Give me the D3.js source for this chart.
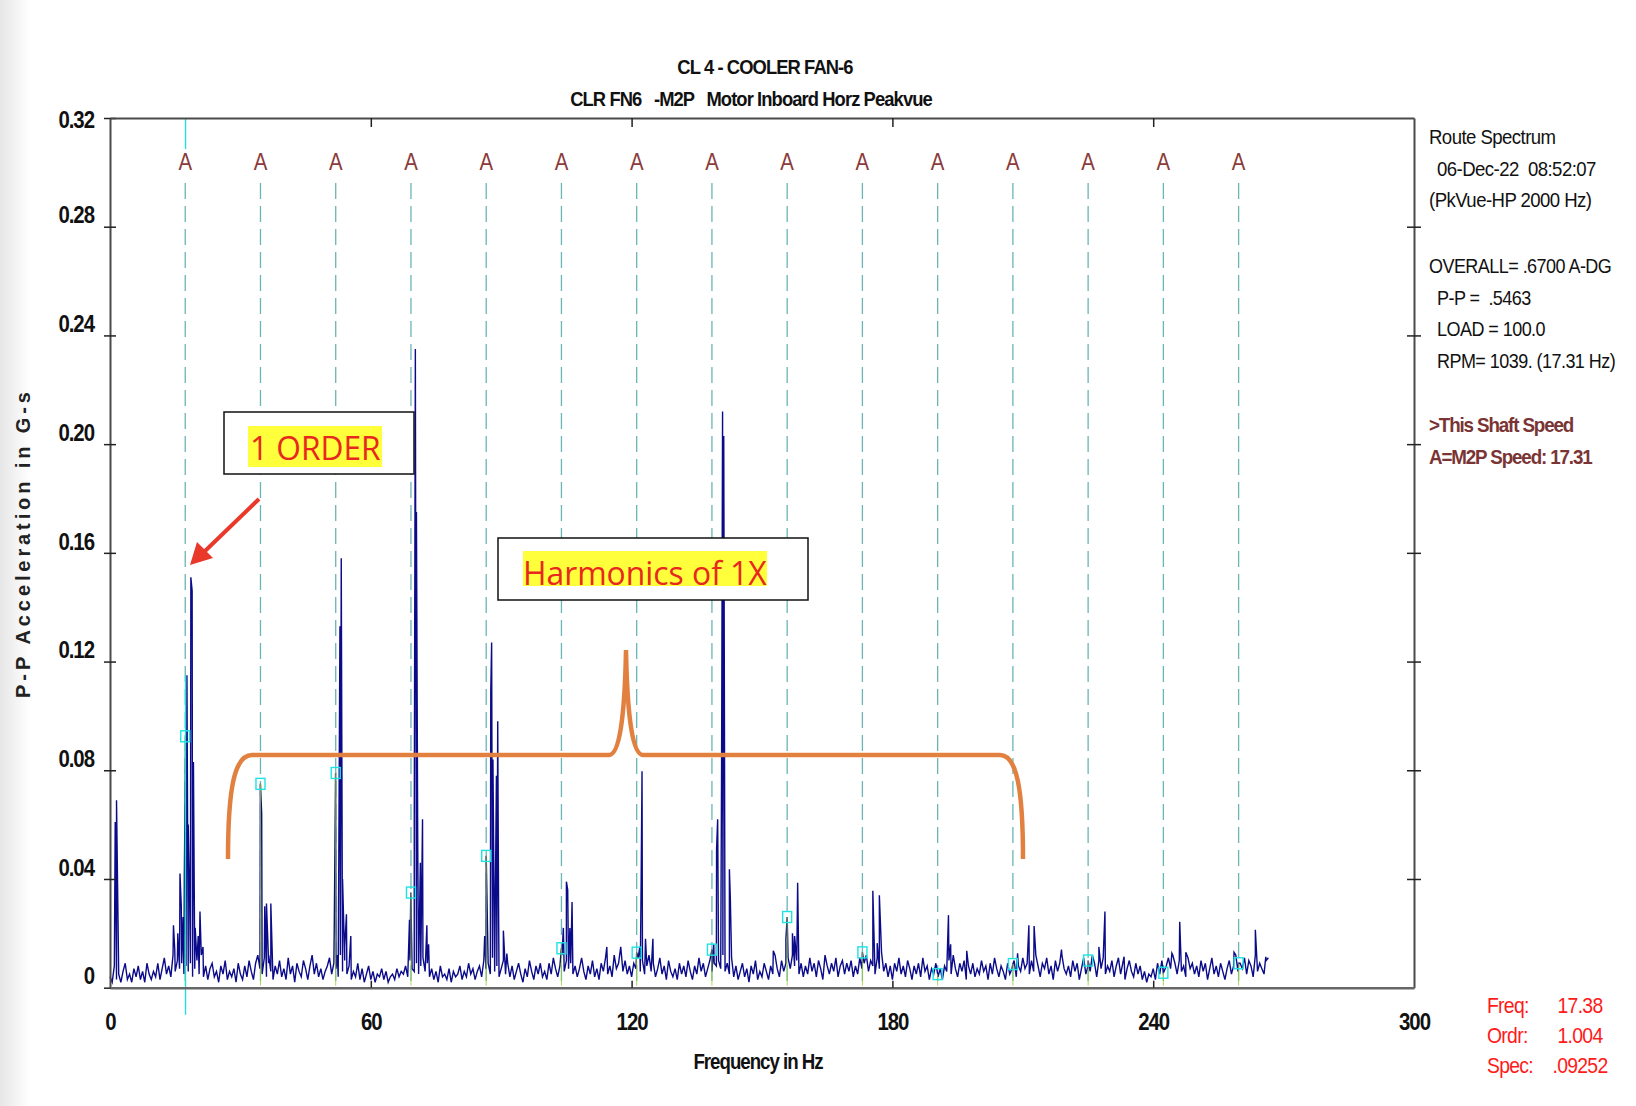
<!DOCTYPE html>
<html>
<head>
<meta charset="utf-8">
<script src="https://cdn.jsdelivr.net/npm/d3@7"></script>
<style>
    html, body { margin: 0; padding: 0; background: #fff; }
    svg { display: block; }
    .narrow { font-family: 'Liberation Sans Narrow', 'Arial Narrow', 'Liberation Sans', sans-serif; }
</style>
</head>
<body>
<div id="chart"></div>
<script>
/* global d3 */

// ---- data ----
const titleLines = ['CL 4 - COOLER FAN-6', 'CLR FN6   -M2P   Motor Inboard Horz Peakvue'];
const xLabel = 'Frequency in Hz';
const yLabel = 'P-P Acceleration in G-s';
const xTicks = [0, 60, 120, 180, 240, 300];
const yTicks = [0, 0.04, 0.08, 0.12, 0.16, 0.20, 0.24, 0.28, 0.32];
const yTickLabels = ['0', '0.04', '0.08', '0.12', '0.16', '0.20', '0.24', '0.28', '0.32'];

const shaftHz = 17.31;
const cursorHz = 17.38;
const harmonicOrders = [1, 2, 3, 4, 5, 6, 7, 8, 9, 10, 11, 12, 13, 14, 15];
// spectrum value at each harmonic (little cyan boxes)
const harmonicAmps = [0.0925, 0.075, 0.079, 0.035, 0.0485, 0.0145, 0.0129, 0.014, 0.026, 0.013, 0.005, 0.0087, 0.010, 0.0055, 0.009];

// noise floor, every 0.5 Hz from 0 Hz, in thousandths of G-s
const floorStepHz = 0.5;
const floorMilli = [
    4, 2, 8, 3, 5, 2, 6, 9, 3, 5, 2, 7, 4, 8, 3, 6, 2, 9, 5, 3,
    6, 4, 9, 3, 7, 11, 5, 8, 4, 12, 6, 10, 7, 9, 5, 8, 6, 9, 4, 7,
    10, 5, 12, 4, 8, 3, 7, 9, 4, 6, 2, 8, 5, 10, 3, 6, 4, 7, 2, 9,
    5, 3, 8, 4, 10, 6, 3, 9, 12, 7, 5, 11, 4, 9, 6, 3, 8, 5, 10, 4,
    7, 3, 11, 5, 8, 2, 9, 6, 4, 10, 7, 3, 8, 12, 5, 9, 4, 7, 3, 6,
    8, 11, 5, 9, 7, 4, 12, 6, 10, 5, 8, 3, 6, 4, 9, 3, 7, 2, 5, 8,
    3, 6, 2, 5, 4, 7, 3, 6, 2, 4, 5, 3, 7, 4, 6, 5, 8, 4, 10, 7,
    6, 9, 5, 8, 11, 6, 9, 4, 7, 3, 6, 2, 8, 4, 5, 3, 7, 2, 6, 4,
    5, 8, 3, 6, 4, 9, 5, 7, 3, 6, 8, 4, 10, 7, 9, 5, 11, 6, 8, 4,
    7, 10, 5, 9, 4, 8, 3, 6, 9, 5, 2, 7, 4, 10, 6, 3, 8, 5, 9, 4,
    6, 3, 9, 5, 11, 7, 4, 8, 12, 6, 10, 7, 9, 5, 8, 4, 7, 11, 6, 3,
    8, 5, 10, 4, 7, 3, 9, 6, 11, 5, 8, 4, 12, 7, 9, 15, 6, 10, 5, 8,
    4, 9, 7, 11, 6, 10, 5, 8, 12, 6, 9, 4, 7, 11, 5, 8, 3, 10, 6, 4,
    7, 3, 9, 5, 8, 4, 10, 6, 3, 8, 5, 11, 6, 9, 4, 7, 10, 6, 9, 8,
    10, 7, 12, 6, 9, 5, 11, 4, 8, 3, 6, 9, 4, 7, 2, 8, 5, 10, 3, 6,
    4, 9, 6, 3, 8, 5, 12, 7, 4, 10, 6, 9, 11, 7, 12, 8, 10, 5, 9, 4,
    8, 5, 11, 6, 9, 4, 10, 7, 3, 12, 8, 5, 9, 6, 11, 4, 8, 10, 5, 9,
    6, 10, 4, 8, 5, 11, 7, 9, 12, 6, 10, 8, 5, 11, 7, 13, 6, 9, 4, 8,
    3, 9, 6, 11, 5, 8, 4, 10, 7, 3, 8, 5, 9, 4, 11, 6, 8, 3, 7, 5,
    9, 4, 7, 3, 8, 6, 10, 5, 12, 7, 4, 9, 6, 10, 3, 8, 5, 9, 4, 7,
    5, 10, 6, 8, 3, 9, 5, 11, 7, 4, 8, 6, 3, 9, 5, 7, 10, 4, 8, 6,
    11, 7, 9, 5, 10, 6, 12, 8, 4, 9, 7, 11, 5, 8, 3, 10, 6, 9, 12, 7,
    5, 8, 4, 10, 6, 9, 3, 7, 11, 5, 8, 6, 12, 9, 4, 10, 7, 11, 5, 8,
    6, 10, 4, 8, 11, 5, 9, 3, 7, 10, 6, 4, 9, 5, 8, 3, 6, 2, 5, 4,
    7, 3, 9, 5, 10, 6, 8, 11, 7, 12, 9, 5, 10, 6, 8, 4, 11, 7, 9, 5,
    8, 4, 10, 6, 9, 3, 7, 11, 5, 8, 4, 9, 6, 3, 7, 10, 5, 8, 12, 6,
    9, 7, 11, 5, 10, 8, 4, 12, 6, 9, 7, 5, 10, 11
];

// spectral lines standing above the floor: [Hz, G-s]
const peaks = [
    [1.2, 0.061], [1.5, 0.069],
    [14.6, 0.023], [14.9, 0.014], [15.6, 0.020], [16.1, 0.042], [16.4, 0.030], [16.8, 0.026], [17.1, 0.041],
    [17.4, 0.0925], [17.7, 0.115], [18.0, 0.060], [18.3, 0.035], [18.6, 0.151], [18.9, 0.146], [19.2, 0.083],
    [19.6, 0.022], [20.3, 0.019], [20.7, 0.028], [21.4, 0.015],
    [34.6, 0.075], [34.9, 0.064], [35.6, 0.030], [36.0, 0.031], [36.5, 0.012], [37.0, 0.031],
    [51.6, 0.0235], [51.9, 0.079], [52.3, 0.012], [52.9, 0.133], [53.2, 0.158], [53.5, 0.040], [54.0, 0.015],
    [54.4, 0.027], [55.4, 0.019],
    [68.9, 0.025], [69.2, 0.035], [70.0, 0.063], [70.25, 0.235], [70.5, 0.175], [70.8, 0.052], [71.4, 0.046],
    [71.9, 0.062], [72.9, 0.023], [73.3, 0.016],
    [86.2, 0.019], [86.55, 0.0485], [87.6, 0.109], [87.8, 0.127], [88.1, 0.084], [88.9, 0.078], [89.2, 0.098],
    [89.4, 0.029], [90.5, 0.021], [91.3, 0.0126],
    [103.86, 0.0145], [104.3, 0.022], [105.0, 0.039], [105.3, 0.036], [105.8, 0.022], [106.3, 0.0315],
    [114.3, 0.015], [121.17, 0.0129], [121.9, 0.015], [122.2, 0.040], [122.4, 0.0796], [123.2, 0.018], [124.9, 0.018],
    [138.48, 0.014], [138.9, 0.016], [139.55, 0.051], [139.8, 0.062], [140.7, 0.081], [140.93, 0.212], [141.2, 0.203],
    [142.5, 0.0436], [142.7, 0.0336],
    [152.6, 0.0136], [155.5, 0.018], [155.79, 0.026], [157.0, 0.020], [157.5, 0.019], [158.2, 0.0386],
    [173.1, 0.013], [175.5, 0.0357], [176.5, 0.0164], [177.0, 0.034],
    [190.41, 0.005], [192.9, 0.0267], [193.4, 0.016], [197.1, 0.0136],
    [207.72, 0.0087], [208.8, 0.0127], [211.4, 0.023], [212.6, 0.0227], [218.9, 0.014],
    [225.03, 0.010], [227.5, 0.015], [228.9, 0.028], [233.3, 0.0114],
    [242.34, 0.0055], [244.3, 0.0127], [246.1, 0.0243], [247.5, 0.013],
    [258.6, 0.013], [259.65, 0.009], [263.5, 0.0213], [265.9, 0.0114]
];

const infoTop = ['Route Spectrum', ' 06-Dec-22  08:52:07', '(PkVue-HP 2000 Hz)'];
const infoMid = ['OVERALL= .6700 A-DG', ' P-P =  .5463', ' LOAD = 100.0', ' RPM= 1039. (17.31 Hz)'];
const infoLegend = ['>This Shaft Speed', 'A=M2P Speed: 17.31'];
const cursorLabels = ['Freq:', 'Ordr:', 'Spec:'];
const cursorValues = ['17.38', '1.004', '.09252'];
const noteOrder = '1 ORDER';
const noteHarm = 'Harmonics of 1X';

// ---- helpers ----
// no condensed face is installed, so squeeze the text horizontally instead
function squeeze(sel, s) {
    sel.each(function () {
        const t = d3.select(this);
        const tx = +t.attr('x') || 0;
        const ty = +t.attr('y') || 0;
        t.attr('x', 0).attr('y', 0).attr('transform', `translate(${tx},${ty}) scale(${s},1)`);
    });
    return sel;
}

// ---- chart ----
function drawChart(el) {
    const $sel = d3.select(el);
    const W = 1636;
    const H = 1106;
    const LEFT = 110;
    const RIGHT = 1414;
    const TOP = 118;
    const BOTTOM = 987.7;

    const x = d3.scaleLinear().domain([0, 300]).range([LEFT, RIGHT]);
    const y = d3.scaleLinear().domain([0, 0.32]).range([BOTTOM, TOP]);

    const $svg = $sel.append('svg').attr('width', W).attr('height', H);
    $svg.attr('xml:space', 'preserve');

    // faint grey strip on the left edge
    const grad = $svg.append('defs').append('linearGradient').attr('id', 'edge');
    grad.append('stop').attr('offset', 0).attr('stop-color', '#e6e6e6');
    grad.append('stop').attr('offset', 1).attr('stop-color', '#fff');
    $svg.append('rect').attr('width', 30).attr('height', H).attr('fill', 'url(#edge)');

    // harmonic cursors: dashed lines + "A" letters
    const harm = harmonicOrders.map((n, i) => ({ hz: n * shaftHz, amp: harmonicAmps[i] }));
    const $harm = $svg.append('g').attr('class', 'g-harm');
    $harm.selectAll('line')
        .data(harm)
        .join('line')
        .attr('x1', d => x(d.hz)).attr('x2', d => x(d.hz))
        .attr('y1', 183).attr('y2', BOTTOM)
        .attr('stroke', '#6bb5b5')
        .attr('stroke-width', 1.3)
        .attr('stroke-dasharray', '16,7');
    squeeze($harm.selectAll('text')
        .data(harm)
        .join('text')
        .attr('class', 'narrow')
        .attr('x', d => x(d.hz)).attr('y', 170)
        .attr('text-anchor', 'middle')
        .attr('font-size', 24)
        .attr('fill', '#8b3b3b')
        .text('A'), 0.85);

    // main cursor (cyan)
    $svg.append('line')
        .attr('x1', x(cursorHz)).attr('x2', x(cursorHz))
        .attr('y1', TOP).attr('y2', 149)
        .attr('stroke', '#19e0e0').attr('stroke-width', 1.3);

    // spectrum
    const floorPts = floorMilli.map((v, i) => [i * floorStepHz, v / 1000]);
    const spectrum = floorPts.concat(peaks).sort((a, b) => a[0] - b[0]);
    const line = d3.line().x(d => x(d[0])).y(d => y(d[1]));
    $svg.append('path')
        .datum(spectrum)
        .attr('d', line)
        .attr('fill', 'none')
        .attr('stroke', '#0b0b8a')
        .attr('stroke-width', 1.4)
        .attr('stroke-linejoin', 'miter');

    // green drop lines + cyan boxes at each harmonic
    $svg.append('g').selectAll('line')
        .data(harm)
        .join('line')
        .attr('x1', d => x(d.hz)).attr('x2', d => x(d.hz))
        .attr('y1', BOTTOM - 2).attr('y2', d => y(d.amp))
        .attr('stroke', '#9acd32').attr('stroke-width', 1).attr('opacity', 0.8);
    $svg.append('line')
        .attr('x1', x(cursorHz)).attr('x2', x(cursorHz))
        .attr('y1', y(0.115)).attr('y2', BOTTOM + 27)
        .attr('stroke', '#19e0e0').attr('stroke-width', 1.3);
    $svg.append('g').selectAll('rect')
        .data(harm)
        .join('rect')
        .attr('x', d => x(d.hz) - 4.5).attr('y', d => y(d.amp) - 5.5)
        .attr('width', 9).attr('height', 11)
        .attr('fill', 'none').attr('stroke', '#1ee3e3').attr('stroke-width', 1.4);

    // axes
    const $axes = $svg.append('g').attr('class', 'g-axis narrow');
    const yAxis = d3.axisLeft(y).tickValues(yTicks)
        .tickFormat((d, i) => yTickLabels[i]).tickSize(6).tickSizeOuter(0).tickPadding(10);
    const $yl = $axes.append('g').attr('transform', `translate(${LEFT},0)`).call(yAxis);
    $yl.selectAll('.tick line').attr('x1', 6);
    squeeze($yl.selectAll('.tick text')
        .attr('y', d => (d === 0.32 ? 2 : -11.5))
        .attr('font-size', 24).attr('font-weight', 'bold').attr('letter-spacing', -1.2)
        .attr('fill', '#111'), 0.85);

    const yRight = d3.axisRight(y).tickValues(yTicks.slice(1, -1)).tickSize(7).tickSizeOuter(0).tickFormat('');
    const $yr = $axes.append('g').attr('transform', `translate(${RIGHT},0)`).call(yRight);
    $yr.selectAll('.tick line').attr('x1', -7);

    const xAxis = d3.axisBottom(x).tickValues(xTicks).tickSize(-7).tickSizeOuter(0).tickPadding(25);
    const $xb = $axes.append('g').attr('transform', `translate(0,${BOTTOM})`).call(xAxis);
    squeeze($xb.selectAll('.tick text')
        .attr('font-size', 24).attr('font-weight', 'bold').attr('letter-spacing', -1.2)
        .attr('fill', '#111'), 0.85);
    $xb.selectAll('.tick line').filter(d => d === 0 || d === 300).remove();

    const xTop = d3.axisTop(x).tickValues(xTicks.slice(1, -1)).tickSize(-9).tickSizeOuter(0).tickFormat('');
    $axes.append('g').attr('transform', `translate(0,${TOP})`).call(xTop);

    $axes.selectAll('.domain').attr('stroke', '#4a4a4a').attr('stroke-width', 2);
    $axes.selectAll('.tick line').attr('stroke', '#222').attr('stroke-width', 1.5);
    $xb.select('.domain').attr('stroke', '#666').attr('stroke-width', 2.6);

    // titles
    const $titles = $svg.append('g').selectAll('text')
        .data(titleLines)
        .join('text')
        .attr('class', 'narrow')
        .attr('x', (d, i) => (i === 0 ? 765 : 751))
        .attr('y', (d, i) => (i === 0 ? 74 : 106))
        .attr('text-anchor', 'middle')
        .attr('font-size', 20).attr('font-weight', 'bold').attr('letter-spacing', -1)
        .attr('fill', '#111')
        .style('white-space', 'pre')
        .text(d => d);
    squeeze($titles, 0.92);

    squeeze($svg.append('text')
        .attr('class', 'narrow')
        .attr('x', 758).attr('y', 1069)
        .attr('text-anchor', 'middle')
        .attr('font-size', 22).attr('font-weight', 'bold').attr('letter-spacing', -1.2)
        .attr('fill', '#111')
        .text(xLabel), 0.85);

    $svg.append('text')
        .attr('transform', 'translate(30,543) rotate(-90)')
        .attr('text-anchor', 'middle')
        .attr('font-family', 'Liberation Sans, Arial, sans-serif')
        .attr('font-size', 20).attr('font-weight', 'bold').attr('letter-spacing', 3.9)
        .attr('fill', '#222')
        .text(yLabel);

    // right-hand info; a leading space in the text means an indented line
    const INFO_X = 1429;
    const INDENT = 8;
    const lineGap = 31.7;
    const $info = $svg.append('g').attr('class', 'narrow').attr('font-size', 20).attr('letter-spacing', -0.6);
    const infoX = d => INFO_X + (d.startsWith(' ') ? INDENT : 0);
    const $i1 = $info.selectAll('.top')
        .data(infoTop).join('text').attr('class', 'top')
        .attr('x', infoX).attr('y', (d, i) => 144 + i * lineGap).attr('fill', '#111')
        .style('white-space', 'pre').text(d => d.trim());
    const $i2 = $info.selectAll('.mid')
        .data(infoMid).join('text').attr('class', 'mid')
        .attr('x', infoX).attr('y', (d, i) => 273 + i * lineGap).attr('fill', '#111')
        .style('white-space', 'pre').text(d => d.trim());
    const $i3 = $info.selectAll('.leg')
        .data(infoLegend).join('text').attr('class', 'leg')
        .attr('x', infoX).attr('y', (d, i) => 432 + i * lineGap)
        .attr('font-weight', 'bold').attr('letter-spacing', -1.2).attr('fill', '#7a3434').text(d => d);
    squeeze($i1, 0.93);
    squeeze($i2, 0.9);
    squeeze($i3, 0.94);

    // cursor readout
    const $cur = $svg.append('g').attr('class', 'narrow').attr('font-size', 22).attr('fill', '#ff1a1a').attr('letter-spacing', -0.8);
    squeeze($cur.selectAll('.lab').data(cursorLabels).join('text').attr('class', 'lab')
        .attr('x', 1487).attr('y', (d, i) => 1013 + i * 30).text(d => d), 0.88);
    squeeze($cur.selectAll('.val').data(cursorValues).join('text').attr('class', 'val')
        .attr('x', 1580).attr('y', (d, i) => 1013 + i * 30)
        .attr('text-anchor', 'middle').text(d => d), 0.88);

    // annotations
    const $note = $svg.append('g').attr('class', 'g-notes');
    $note.append('rect').attr('x', 224).attr('y', 412).attr('width', 190).attr('height', 62)
        .attr('fill', '#fff').attr('stroke', '#111').attr('stroke-width', 1.5);
    $note.append('rect').attr('x', 248).attr('y', 426).attr('width', 134).attr('height', 41).attr('fill', '#ffff3c');
    squeeze($note.append('text').attr('x', 250).attr('y', 460)
        .attr('font-family', 'Open Sans, sans-serif').attr('font-size', 33)
        .attr('fill', '#e8281e').text(noteOrder), 0.96);

    $note.append('rect').attr('x', 498).attr('y', 538).attr('width', 310).attr('height', 62)
        .attr('fill', '#fff').attr('stroke', '#111').attr('stroke-width', 1.5);
    $note.append('rect').attr('x', 523).attr('y', 551).attr('width', 244).attr('height', 35).attr('fill', '#ffff3c');
    squeeze($note.append('text').attr('x', 523).attr('y', 585)
        .attr('font-family', 'Open Sans, sans-serif').attr('font-size', 33)
        .attr('fill', '#e8281e').text(noteHarm), 0.965);

    // red arrow
    $note.append('line').attr('x1', 259).attr('y1', 499).attr('x2', 204).attr('y2', 552)
        .attr('stroke', '#e8392b').attr('stroke-width', 4);
    $note.append('path').attr('d', 'M190,565 L197,542 L213,558 Z').attr('fill', '#e8392b');

    // orange brace
    $note.append('path')
        .attr('d', 'M228,859 C228,790 234,755 252,755 L609,755 Q624,755 626,650 Q628,755 643,755 L1000,755 C1017,755 1023,790 1023,859')
        .attr('fill', 'none').attr('stroke', '#e2803f').attr('stroke-width', 4.5);
}

drawChart(document.getElementById('chart'));
</script>
</body>
</html>
